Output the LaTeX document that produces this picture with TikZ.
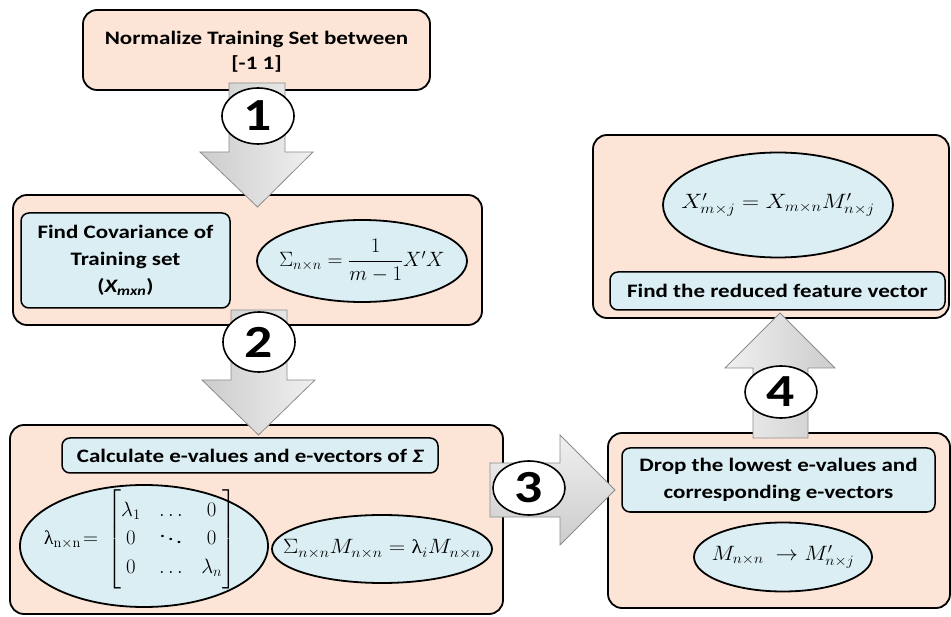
\documentclass[tikz,border=0pt]{standalone}
\usepackage{amsmath}
\usepackage{graphicx}
\usepackage[no-math]{fontspec}
\setmainfont{Carlito}[FakeStretch=1.21]
\newfontfamily\serifgreek{Liberation Serif}
\usetikzlibrary{shapes.geometric}
\definecolor{peach}{HTML}{FCE4D6}
\definecolor{lblue}{HTML}{DAEEF3}
\definecolor{arrline}{HTML}{8C8C8C}
\newcommand{\ulam}{\mbox{\serifgreek λ}}
\newcommand{\hs}[2]{\scalebox{#1}[1]{#2}}
\tikzset{
  outerbox/.style={draw=black, line width=1.8pt, rounded corners=14pt, fill=peach, inner sep=0pt},
  labelbox/.style={draw=black, line width=1.5pt, rounded corners=8pt, fill=lblue, inner sep=0pt,
     font=\fontsize{19}{27}\selectfont\bfseries, align=center},
  eqell/.style={ellipse, draw=black, line width=1.8pt, fill=lblue, inner sep=0pt},
  eqtext/.style={inner sep=0pt, font=\fontsize{19.5}{23}\selectfont},
  numcirc/.style={ellipse, draw=black, line width=1.6pt, fill=white, inner sep=0pt,
     font=\fontsize{46}{46}\selectfont\bfseries},
  blockarrow/.style={draw=arrline, line width=0.8pt},
  plaintext/.style={inner sep=0pt, align=center, font=\fontsize{19}{25}\selectfont\bfseries},
}
\begin{document}
\begin{tikzpicture}[x=1pt,y=-1pt]
\useasboundingbox (0,0) rectangle (951,617);

% ---- boxes ----
\node[outerbox, minimum width=347pt, minimum height=80pt] (b1) at (256.5,50) {};
\node[plaintext] (b1t) at (256.5,52) {Normalize Training Set between\\{}[-1 1]};

\node[outerbox, minimum width=469pt, minimum height=130pt] (b2) at (247.5,260) {};
\node[labelbox, minimum width=209pt, minimum height=95pt] (cov) at (125.5,260.5)
      {Find Covariance of\\Training set\\({\itshape X}\textsubscript{\itshape mxn})};
\node[eqell, minimum width=210pt, minimum height=82pt] (covf) at (362,261) {};
\node[eqtext] (covft) at (covf.center) {$\Sigma_{n\times n}=\dfrac{1}{m-1}X'X$};

\node[outerbox, minimum width=493pt, minimum height=189pt] (b3) at (256.5,519.5) {};
\node[labelbox, minimum width=376pt, minimum height=35pt] (calc) at (250,455.5)
      {Calculate e-values and e-vectors of {\itshape Σ}};
\node[eqell, minimum width=248pt, minimum height=122pt] (lam) at (144,546) {};
\node[eqtext] (lamt) at (140,539)
      {$\ulam_{\mathrm{n\times n}}\!=\,\left[\vphantom{\rule[-44pt]{0pt}{88pt}}{\renewcommand{\arraystretch}{1.25}\setlength{\arraycolsep}{9pt}\begin{matrix}\lambda_1 & \ldots & 0\\ 0 & \ddots & 0\\ 0 & \ldots & \lambda_n\end{matrix}}\right]$};
\node[eqell, minimum width=220pt, minimum height=68pt] (sm) at (382,549) {};
\node[eqtext] (smt) at (sm.center) {\hs{1.1}{$\Sigma_{n\times n}M_{n\times n}=\ulam_iM_{n\times n}$}};

\node[outerbox, minimum width=342pt, minimum height=175pt] (b4) at (779,520.5) {};
\node[labelbox, minimum width=313pt, minimum height=64pt] (drop) at (778.5,480)
      {Drop the lowest e-values and\\corresponding e-vectors};
\node[eqell, minimum width=178pt, minimum height=69pt] (mf) at (783,557) {};
\node[eqtext] (mft) at (mf.center) {\hs{1.08}{$M_{n\times n}\ \rightarrow M'_{n\times j}$}};

\node[outerbox, minimum width=356pt, minimum height=183pt] (b5) at (771,226.5) {};
\node[eqell, minimum width=230pt, minimum height=105pt] (xf) at (778,205) {};
\node[eqtext] (xft) at (xf.center) {\hs{1.14}{$X'_{m\times j}=X_{m\times n}M'_{n\times j}$}};
\node[labelbox, minimum width=335pt, minimum height=38pt] (red) at (777.5,291)
      {Find the reduced feature vector};

% ---- block arrows ----
\path[blockarrow, left color=gray!40!white, right color=gray!12!white]
  (229,83) -- (285,83) -- (285,152) -- (313,152) -- (257.5,207) -- (200,152) -- (229,152) -- cycle;
\path[blockarrow, left color=gray!40!white, right color=gray!12!white]
  (231,310) -- (287,310) -- (287,380) -- (315,380) -- (258.5,435) -- (202,380) -- (231,380) -- cycle;
\path[blockarrow, top color=gray!12!white, bottom color=gray!40!white]
  (490,463) -- (560,463) -- (560,435) -- (615,490) -- (560,545) -- (560,517) -- (490,517) -- cycle;
\path[blockarrow, left color=gray!12!white, right color=gray!40!white]
  (753,438) -- (753,368) -- (725,368) -- (780,313) -- (835,368) -- (808,368) -- (808,438) -- cycle;

% ---- step numbers ----
\node[numcirc, minimum width=72pt, minimum height=56pt] (n1) at (258,116) {1};
\node[numcirc, minimum width=72pt, minimum height=60pt] (n2) at (259,342) {2};
\node[numcirc, minimum width=72pt, minimum height=54pt] (n3) at (529,488) {3};
\node[numcirc, minimum width=72pt, minimum height=52pt] (n4) at (781,392) {4};
\end{tikzpicture}
\end{document}
